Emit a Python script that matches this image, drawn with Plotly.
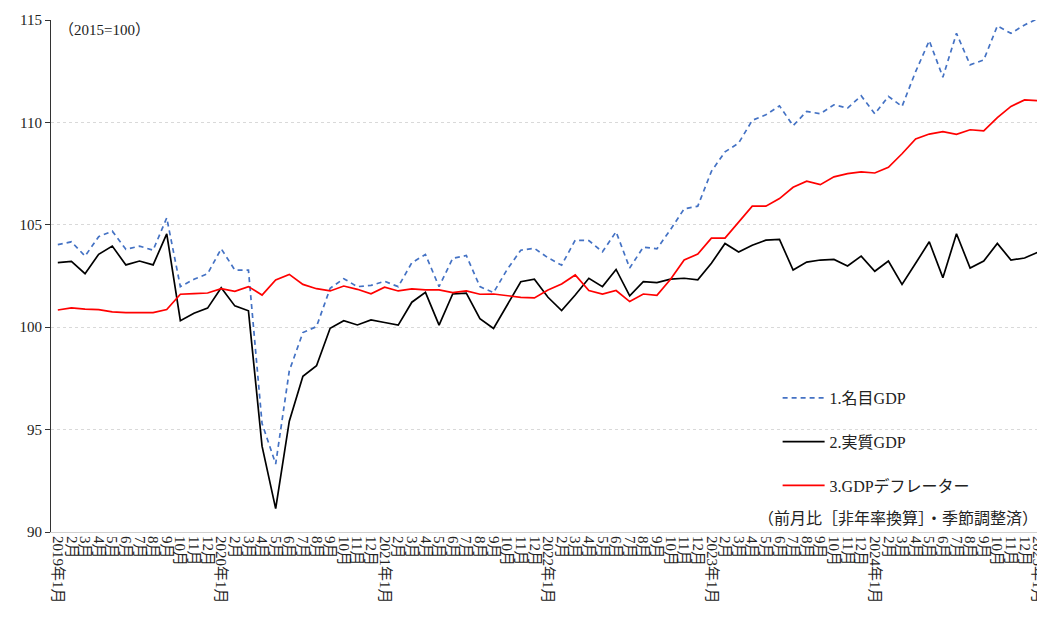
import plotly.graph_objects as go

years = [2019, 2020, 2021, 2022, 2023, 2024, 2025]
months = list(range(1, 13))

nominal = [104.03, 104.17, 103.47, 104.42, 104.69, 103.80, 103.96, 103.76, 105.34, 101.98,
           102.34, 102.61, 103.83, 102.79, 102.79, 95.30, 93.32, 97.87, 99.74, 100.03,
           101.90, 102.37, 101.98, 102.04, 102.24, 101.98, 103.15, 103.55, 101.98, 103.36,
           103.50, 101.98, 101.69, 102.82, 103.76, 103.85, 103.39, 103.03, 104.25, 104.23,
           103.68, 104.66, 102.89, 103.91, 103.83, 104.77, 105.78, 105.91, 107.61, 108.56,
           108.99, 110.10, 110.37, 110.81, 109.84, 110.54, 110.42, 110.86, 110.70, 111.30,
           110.42, 111.27, 110.78, 112.48, 113.99, 112.21, 114.35, 112.81, 113.05, 114.71,
           114.35, 114.76, 115.08]

real = [103.15, 103.21, 102.61, 103.56, 103.96, 103.04, 103.23, 103.04, 104.56, 100.32,
        100.68, 100.93, 101.93, 101.04, 100.80, 94.19, 91.14, 95.41, 97.60, 98.12,
        99.95, 100.32, 100.11, 100.36, 100.23, 100.10, 101.22, 101.70, 100.10, 101.62,
        101.66, 100.42, 99.94, 101.09, 102.22, 102.34, 101.46, 100.81, 101.57, 102.39,
        101.98, 102.82, 101.53, 102.22, 102.18, 102.35, 102.39, 102.31, 103.12, 104.09,
        103.67, 104.00, 104.25, 104.29, 102.79, 103.18, 103.28, 103.31, 102.99, 103.47,
        102.73, 103.23, 102.09, 103.12, 104.17, 102.42, 104.56, 102.89, 103.23, 104.09,
        103.28, 103.38, 103.67]

deflator = [100.84, 100.94, 100.88, 100.86, 100.75, 100.71, 100.71, 100.71, 100.86, 101.61,
            101.64, 101.67, 101.88, 101.75, 101.98, 101.57, 102.31, 102.58, 102.09, 101.88,
            101.77, 102.01, 101.85, 101.63, 101.95, 101.77, 101.87, 101.82, 101.82, 101.69,
            101.77, 101.61, 101.62, 101.54, 101.46, 101.43, 101.82, 102.11, 102.55, 101.79,
            101.62, 101.79, 101.25, 101.62, 101.56, 102.34, 103.28, 103.57, 104.35, 104.35,
            105.13, 105.91, 105.91, 106.28, 106.83, 107.13, 106.96, 107.34, 107.50, 107.58,
            107.53, 107.81, 108.47, 109.19, 109.43, 109.55, 109.42, 109.64, 109.59, 110.23,
            110.78, 111.10, 111.06]

y_ticks = [90, 95, 100, 105, 110, 115]

# category labels: "2019年1月", "2月", ... up to "2025年1月"
keys = []
labels = []
for y in years:
    for m in months:
        if y == 2025 and m > 1:
            break
        keys.append(f"{y}-{m:02d}")
        labels.append(f"{y}年{m}月" if m == 1 else f"{m}月")

FONT = "Liberation Serif, Noto Sans CJK JP, serif"
TXT = "#222222"
xs = list(range(len(keys)))

fig = go.Figure()
fig.add_trace(go.Scatter(x=xs, y=nominal, mode="lines", name="1.名目GDP", legendgroup="a",
                         line=dict(color="#4472C4", width=1.7, dash="5px,4px")))
fig.add_trace(go.Scatter(x=xs, y=real, mode="lines", name="2.実質GDP", legendgroup="b",
                         line=dict(color="#000000", width=1.7)))
fig.add_trace(go.Scatter(x=xs, y=deflator, mode="lines", name="3.GDPデフレーター", legendgroup="c",
                         line=dict(color="#FF0000", width=1.7)))

fig.update_layout(
    width=1037, height=609,
    margin=dict(l=43, r=0, t=12, b=85, autoexpand=False),
    plot_bgcolor="white", paper_bgcolor="white",
    font=dict(family=FONT, size=16, color=TXT),
    showlegend=True,
    legend=dict(x=0.731, y=0.295, xanchor="left", yanchor="top",
                traceorder="grouped", tracegroupgap=20, itemwidth=42,
                bgcolor="rgba(0,0,0,0)", font=dict(family=FONT, size=16, color=TXT)),
    xaxis=dict(
        range=[-0.5, len(keys) - 0.5], automargin=False,
        tickmode="array", tickvals=xs, ticktext=labels,
        tickangle=90, tickfont=dict(family=FONT, size=15, color=TXT),
        ticklabeloverflow="allow",
        showgrid=False, showline=True, linecolor="#d0d0d0", linewidth=1,
        ticks="", zeroline=False,
    ),
    yaxis=dict(
        range=[90, 115], tickvals=y_ticks, automargin=False,
        showgrid=True, gridcolor="#d9d9d9", griddash="dot", gridwidth=1,
        showline=True, linecolor="#333333", linewidth=1,
        ticks="outside", ticklen=5, tickcolor="#333333",
        tickfont=dict(family=FONT, size=15, color=TXT),
        zeroline=False,
    ),
    annotations=[
        dict(text="（2015=100）", x=0.006, y=1.0, xref="paper", yref="paper",
             xanchor="left", yanchor="top", showarrow=False,
             font=dict(family=FONT, size=15, color=TXT)),
        dict(text="（前月比［非年率換算］・季節調整済）", x=0.995, y=0.005, xref="paper", yref="paper",
             xanchor="right", yanchor="bottom", showarrow=False,
             font=dict(family=FONT, size=16, color=TXT)),
    ],
)

fig.write_html("out.html")
